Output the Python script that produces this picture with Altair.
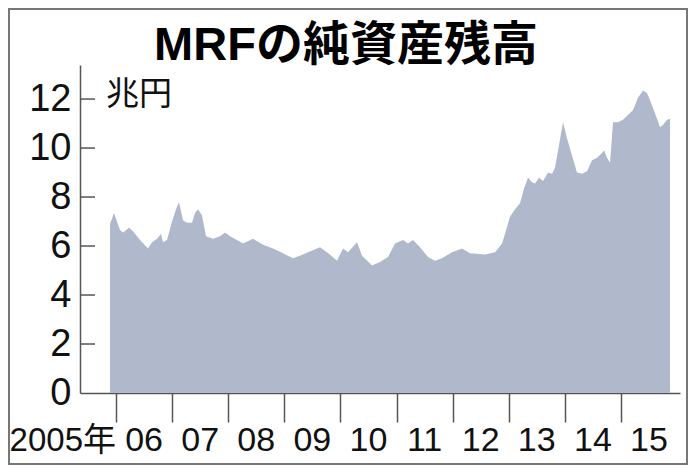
import altair as alt
import pandas as pd

# ---- data (fractional year, trillion yen) ----
years = [2005.893, 2005.964, 2006.071, 2006.125, 2006.232, 2006.303, 2006.428, 2006.570,
         2006.642, 2006.731, 2006.802, 2006.838, 2006.909, 2006.998, 2007.070, 2007.123,
         2007.194, 2007.266, 2007.355, 2007.408, 2007.462, 2007.533, 2007.604, 2007.729,
         2007.854, 2007.943, 2008.032, 2008.157, 2008.264, 2008.442, 2008.620, 2008.799,
         2008.977, 2009.155, 2009.333, 2009.422, 2009.636, 2009.761, 2009.939, 2010.046,
         2010.135, 2010.296, 2010.385, 2010.563, 2010.706, 2010.848, 2010.973, 2011.116,
         2011.205, 2011.294, 2011.419, 2011.561, 2011.686, 2011.811, 2011.989, 2012.168,
         2012.310, 2012.578, 2012.756, 2012.881, 2012.934, 2013.023, 2013.112, 2013.201,
         2013.273, 2013.344, 2013.415, 2013.469, 2013.540, 2013.611, 2013.701, 2013.772,
         2013.825, 2013.879, 2013.968, 2014.039, 2014.128, 2014.217, 2014.307, 2014.396,
         2014.485, 2014.574, 2014.663, 2014.699, 2014.752, 2014.806, 2014.859, 2014.948,
         2015.037, 2015.126, 2015.216, 2015.305, 2015.394, 2015.465, 2015.554, 2015.643,
         2015.697, 2015.750, 2015.822, 2015.875]
values = [6.9, 7.35, 6.65, 6.55, 6.75, 6.6, 6.25, 5.9,
          6.15, 6.3, 6.5, 6.15, 6.25, 7.0, 7.5, 7.8,
          7.05, 6.95, 6.95, 7.35, 7.5, 7.25, 6.4, 6.3,
          6.4, 6.55, 6.4, 6.25, 6.1, 6.3, 6.05, 5.9,
          5.7, 5.5, 5.65, 5.75, 5.95, 5.75, 5.4, 5.9,
          5.75, 6.15, 5.6, 5.2, 5.35, 5.55, 6.1, 6.25,
          6.1, 6.25, 5.95, 5.55, 5.4, 5.5, 5.75, 5.9,
          5.7, 5.65, 5.75, 6.1, 6.5, 7.2, 7.5, 7.75,
          8.35, 8.8, 8.6, 8.55, 8.8, 8.65, 9.0, 8.95,
          9.2, 9.9, 11.05, 10.4, 9.7, 9.0, 8.95, 9.05,
          9.5, 9.6, 9.8, 9.9, 9.6, 9.4, 11.05, 11.05,
          11.15, 11.35, 11.55, 12.05, 12.35, 12.25, 11.75, 11.2,
          10.85, 10.95, 11.15, 11.2]

tick_years = list(range(2006, 2016))
x_labels = ["06", "07", "08", "09", "10", "11", "12", "13", "14", "15"]
x_label_pos = [2006.5, 2007.5, 2008.5, 2009.5, 2010.5, 2011.5, 2012.5, 2013.5, 2014.5, 2015.5]
first_label = ["2005年"]
first_label_pos = [2006.0]
y_ticks = [0, 2, 4, 6, 8, 10, 12]
inner_ticks = [2, 4, 6, 8, 10, 12]
title_text = ["MRFの純資産残高"]
unit_text = ["兆円"]

LATIN = "Liberation Sans, Arial, Noto Sans CJK JP, sans-serif"
CJK = "Noto Sans CJK JP"
AXIS_GRAY = "#555555"
TEXT = "#111111"

df = pd.DataFrame({"year": years, "value": values})
xscale = alt.Scale(domain=[2005.358, 2016.053], nice=False, zero=False)
yscale = alt.Scale(domain=[0, 13.39], nice=False)

area = alt.Chart(df).mark_area(color="#b0b8cb", opacity=1).encode(
    x=alt.X("year:Q", scale=xscale, title=None,
            axis=alt.Axis(values=tick_years, labels=False, tickSize=29, tickColor=AXIS_GRAY,
                          tickWidth=1.5, domainColor=AXIS_GRAY, domainWidth=1.5, grid=False)),
    y=alt.Y("value:Q", scale=yscale, title=None,
            axis=alt.Axis(values=y_ticks, ticks=False, labelFont=LATIN, labelFontSize=38,
                          labelColor=TEXT, labelPadding=9, domainColor=AXIS_GRAY,
                          domainWidth=1.5, grid=False)),
)

ticks = alt.Chart(pd.DataFrame({"value": inner_ticks})).mark_rule(
    color=AXIS_GRAY, strokeWidth=1.5).encode(
    y=alt.Y("value:Q", scale=yscale, title=None),
    x=alt.value(0), x2=alt.value(15),
)

xlab = alt.Chart(pd.DataFrame({"year": x_label_pos, "label": x_labels})).mark_text(
    font=LATIN, fontSize=34, baseline="alphabetic", align="center", color=TEXT).encode(
    x=alt.X("year:Q", scale=xscale, title=None),
    y=alt.value(386),
    text="label:N",
)

xlab0 = alt.Chart(pd.DataFrame({"year": first_label_pos, "label": first_label})).mark_text(
    font=LATIN, fontSize=33, baseline="alphabetic", align="right", dx=0, color=TEXT).encode(
    x=alt.X("year:Q", scale=xscale, title=None),
    y=alt.value(386),
    text="label:N",
)

unit = alt.Chart(pd.DataFrame({"label": unit_text})).mark_text(
    font=CJK, fontSize=33, baseline="middle", align="left", color=TEXT).encode(
    x=alt.value(26), y=alt.value(30), text="label:N",
)

title = alt.Chart(pd.DataFrame({"label": title_text})).mark_text(
    font="Liberation Sans, Noto Sans CJK JP, sans-serif", fontSize=47, fontWeight="bold",
    baseline="alphabetic", align="center", color="#000000").encode(
    x=alt.value(266), y=alt.value(-5), text="label:N",
)

border = alt.Chart(pd.DataFrame({"a": [0]})).mark_rect(
    fillOpacity=0, stroke="#777777", strokeWidth=2).encode(
    x=alt.value(-71), x2=alt.value(607), y=alt.value(-56), y2=alt.value(399),
)

chart = alt.layer(area, ticks, xlab, xlab0, unit, title, border).properties(
    width=600, height=328,
    padding={"left": 72, "top": 57, "right": 8, "bottom": 72},
    autosize=alt.AutoSizeParams(type="none"),
).configure(background="white").configure_view(stroke=None)

chart.save("out.html", embed_options={"renderer": "svg", "actions": False})
